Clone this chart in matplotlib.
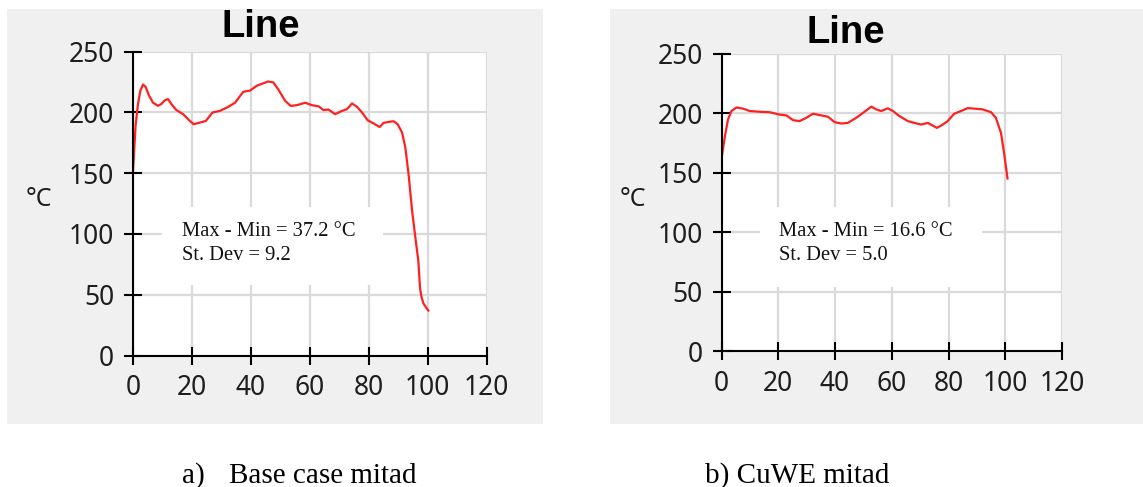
import matplotlib.pyplot as plt
from matplotlib.patches import Rectangle

# position along the line (x) and temperature (°C)
x_base = [0, 0.9, 1.7, 2.5, 3.4, 4.3, 5.4, 6.8, 8.5, 9.6, 10.8, 11.9, 13, 14.7, 17,
          19.3, 20.6, 22.7, 24.7, 27, 29.5, 32.3, 34.6, 37.4, 39.7, 42, 44.2, 45.9,
          47.6, 49.3, 51.6, 53.5, 55.6, 58.4, 60.7, 63, 64.6, 66.3, 68.6, 70.9, 72.6,
          74.3, 76, 77.7, 79.6, 81.6, 83.7, 85, 86.7, 88.4, 89.8, 91.3, 92.4, 93.5,
          94.7, 95.8, 96.8, 97.4, 97.9, 98.5, 99.3, 100.2]
t_base = [151.8, 190, 207, 218, 223, 221, 214, 208, 205.5, 207, 210, 211, 207, 202, 198.6,
          193, 190.3, 191.7, 193, 200, 201.3, 204.6, 208, 217, 218, 222, 224, 225.5,
          224.7, 219, 209.6, 205.4, 206, 208, 206, 205, 202, 202.4, 198.6, 201.3, 202.7,
          207.4, 204.6, 200, 193.6, 191, 188, 191.4, 192.2, 192.8, 190.3, 183.4, 171, 149,
          119, 97, 78, 55, 48, 43, 40, 37]

x_cuwe = [0, 1.2, 2.3, 3.5, 5.3, 7.6, 10, 13.5, 17, 20.5, 22.9, 25.2, 27.5, 29.9, 32.2,
          34.6, 37.5, 39.9, 42.2, 44.5, 47.5, 50.4, 52.8, 54.5, 56.3, 58.6, 60.4, 62.7,
          65.7, 68, 70.3, 72.7, 74.4, 75.9, 78, 79.7, 82, 84.4, 86.8, 89.1, 92, 95, 96.7,
          98.5, 99.6, 100.8]
t_cuwe = [162, 180.7, 195, 202, 205, 204, 202, 201.4, 201, 199, 198.3, 194.3, 193.5, 196.3,
          199.7, 198.6, 197.2, 192.6, 191.5, 192, 196.3, 201.4, 205.7, 203.4, 202, 204.3,
          202, 197.7, 193.5, 192, 190.6, 192, 189.8, 187.8, 190.6, 193.5, 199.7, 202, 204.5,
          204, 203.4, 201, 196.3, 183.5, 166.5, 145.2]

stats_base = ['Max - Min = 37.2 °C', 'St. Dev = 9.2']
stats_cuwe = ['Max - Min = 16.6 °C', 'St. Dev = 5.0']
captions = [('a)', 'Base case mitad'), ('b) CuWE mitad', None)]

W, H = 1143, 487
fig = plt.figure(figsize=(W / 100, H / 100), dpi=100)
fig.patch.set_facecolor('white')


def fx(px):
    return px / W


def fy(py):
    return 1 - py / H


# gray panel backgrounds
for x0, x1 in [(7, 543), (610, 1143)]:
    fig.patches.append(Rectangle((fx(x0), fy(424)), fx(x1 - x0), (424 - 9) / H,
                                 transform=fig.transFigure, facecolor='#f0f0f0',
                                 edgecolor='none', zorder=-1))

panels = [
    dict(rect=(133, 486.7, 51.7, 355.5), x=x_base, t=t_base, stats=stats_base,
         box=(161.7, 383, 206.7, 285.5), tx=181.7, title_x=261, title_y=37.3, unit_x=39),
    dict(rect=(721.5, 1062, 54, 351), x=x_cuwe, t=t_cuwe, stats=stats_cuwe,
         box=(760, 981.7, 206.7, 286.7), tx=779.3, title_x=846, title_y=43.3, unit_x=633),
]

tick_font = dict(family='Noto Sans', size=19, color='#1e1e1e')

for p in panels:
    l, r, t, b = p['rect']
    ax = fig.add_axes([fx(l), fy(b), fx(r - l), (b - t) / H])
    ax.set_facecolor('white')
    ax.plot(p['x'], p['t'], color='#ff2020', lw=1.6, zorder=3)
    ax.set_xlim(0, 120)
    ax.set_ylim(0, 250)
    ax.set_xticks(range(0, 121, 20))
    ax.set_yticks(range(0, 251, 50))
    ax.set_axisbelow(True)
    ax.grid(True, color='#dadada', lw=1.6)
    for s in ['top', 'right']:
        ax.spines[s].set_visible(False)
    for s in ['left', 'bottom']:
        ax.spines[s].set_linewidth(1.5)
        ax.spines[s].set_color('black')
        ax.spines[s].set_zorder(4)
    ax.tick_params(direction='inout', length=13, width=1.5, color='black')
    ax.tick_params(axis='y', pad=7)
    ax.tick_params(axis='x', pad=7)
    for lab in ax.get_xticklabels() + ax.get_yticklabels():
        lab.set_fontfamily(tick_font['family'])
        lab.set_fontsize(tick_font['size'])
        lab.set_color(tick_font['color'])

    # white box behind the stats text
    bx0, bx1, by0, by1 = p['box']
    ax.add_patch(Rectangle(((bx0 - l) / (r - l), (b - by1) / (b - t)),
                           (bx1 - bx0) / (r - l), (by1 - by0) / (b - t),
                           transform=ax.transAxes, facecolor='white',
                           edgecolor='none', zorder=2))
    for i, line in enumerate(p['stats']):
        fig.text(fx(p['tx']), fy(231.7 + i * 23.3), line, family='Liberation Serif',
                 fontsize=14.8, ha='left', va='center', color='#111111', zorder=5)

    fig.text(fx(p['title_x']), fy(p['title_y']), 'Line', family='Liberation Sans',
             fontweight='bold', fontsize=27.5, ha='center', va='baseline')
    fig.text(fx(p['unit_x']), fy(200), '°C', family='Noto Sans', fontsize=18,
             ha='center', va='center', color='#1e1e1e')

cap_font = dict(family='Liberation Serif', fontsize=21, va='baseline', color='black')
fig.text(fx(181.7), fy(482.7), captions[0][0], ha='left', **cap_font)
fig.text(fx(229), fy(482.7), captions[0][1], ha='left', **cap_font)
fig.text(fx(705), fy(482.7), captions[1][0], ha='left', **cap_font)

fig.savefig('out.png', dpi=100)
